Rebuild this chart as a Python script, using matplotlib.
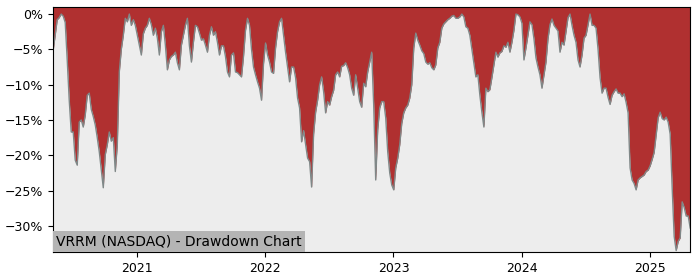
import numpy as np
import pandas as pd
import matplotlib
matplotlib.use("Agg")
from matplotlib import pyplot as plt
import matplotlib.dates as mdates
from matplotlib.ticker import FuncFormatter

# Drawdown in percent at an even spacing
start_date = "2020-05-07"
end_date = "2025-04-25"
drawdown = [
    -5.1, -3.0, -0.8, -0.5, 0.0, -0.3, -1.2, -6.5, -12.2, -16.7,
    -16.7, -20.7, -21.4, -15.3, -15.0, -16.0, -14.3, -11.5, -11.2, -13.5,
    -14.5, -15.7, -17.5, -19.5, -22.0, -24.6, -19.9, -18.5, -16.7, -18.0,
    -17.5, -22.3, -18.5, -8.2, -5.0, -3.0, -0.6, -1.1, 0.0, -1.6,
    -0.8, -1.6, -3.0, -4.4, -5.8, -2.8, -2.0, -1.6, -0.6, -1.5,
    -3.0, -2.0, -3.4, -5.8, -2.5, -1.6, -4.4, -7.9, -6.5, -6.0,
    -5.8, -5.4, -6.9, -7.9, -4.4, -3.0, -1.6, -0.6, -4.5, -6.8,
    -4.0, -1.6, -1.8, -2.7, -3.7, -3.5, -4.4, -5.4, -3.0, -1.8,
    -3.0, -2.5, -4.0, -5.8, -4.5, -4.5, -6.0, -8.2, -8.9, -5.8,
    -5.5, -8.2, -8.3, -8.6, -8.9, -6.0, -2.3, -0.6, -1.6, -5.0,
    -7.5, -8.6, -9.6, -10.5, -12.2, -7.0, -4.1, -5.8, -6.8, -8.2,
    -8.4, -4.8, -2.5, -1.1, -0.6, -3.0, -5.4, -7.5, -9.6, -7.5,
    -7.5, -9.0, -11.9, -13.3, -18.1, -16.5, -18.5, -20.4, -20.9, -24.5,
    -17.0, -13.9, -12.2, -10.0, -8.9, -11.0, -14.0, -12.4, -12.9, -11.7,
    -10.8, -8.6, -8.2, -8.9, -7.4, -7.3, -6.9, -7.6, -8.6, -10.5,
    -11.5, -8.6, -10.5, -12.4, -13.2, -9.8, -10.3, -8.2, -6.8, -5.4,
    -12.9, -23.5, -16.4, -13.3, -12.4, -12.4, -14.7, -19.5, -22.5, -24.2,
    -24.9, -21.8, -20.4, -18.5, -15.5, -14.0, -13.3, -12.9, -11.9, -10.0,
    -4.8, -2.7, -3.7, -4.4, -5.2, -5.6, -6.8, -7.1, -6.9, -7.6,
    -7.9, -7.2, -4.8, -4.0, -2.0, -1.4, -1.1, -0.8, -0.6, -0.3,
    -0.2, -0.6, -0.6, -0.4, 0.0, -0.4, -1.8, -2.0, -3.0, -5.0,
    -7.0, -8.9, -8.6, -11.5, -13.9, -16.0, -10.5, -11.0, -10.7, -9.0,
    -7.2, -5.4, -6.1, -5.5, -5.3, -4.5, -4.7, -4.0, -5.4, -4.0,
    -2.3, 0.0, -0.1, -0.4, -1.3, -6.5, -4.8, -3.0, -1.1, -1.5,
    -3.5, -6.2, -7.5, -8.6, -10.5, -8.6, -6.8, -3.5, -1.5, -0.7,
    -1.6, -2.0, -2.4, -5.4, -4.0, -4.4, -2.5, -0.5, 0.0, -1.6,
    -3.0, -4.0, -6.5, -7.5, -5.8, -3.4, -3.0, -1.5, 0.0, -1.6,
    -1.6, -2.0, -5.0, -9.0, -11.2, -10.5, -10.5, -11.8, -12.8, -11.5,
    -11.0, -10.6, -11.2, -11.2, -11.7, -11.3, -12.5, -14.0, -21.8, -23.5,
    -24.0, -24.9, -23.5, -23.2, -23.0, -22.8, -22.3, -22.1, -21.5, -20.6,
    -19.6, -17.1, -14.7, -13.9, -14.8, -15.0, -14.6, -15.3, -17.0, -24.6,
    -31.5, -33.5, -32.2, -31.7, -26.6, -27.4, -28.6, -28.6, -30.3,
]
title_text = "VRRM (NASDAQ) - Drawdown Chart"

dates = pd.date_range(start_date, end_date, periods=len(drawdown))
dd = np.array(drawdown)

fig, ax = plt.subplots(figsize=(7, 2.8), dpi=100)
ax.set_facecolor("#ededed")

y_top = 1.0
y_bottom = -33.7
ax.fill_between(dates, dd, y_top, color="#b03030", linewidth=0)
ax.plot(dates, dd, color="#808888", linewidth=1.0)

ax.set_xlim(dates[0], dates[-1])
ax.set_ylim(y_bottom, y_top)
ax.set_yticks([0, -5, -10, -15, -20, -25, -30])
ax.yaxis.set_major_formatter(FuncFormatter(lambda v, p: f"{v:.0f}%".replace("-", "\u2212")))
ax.xaxis.set_major_locator(mdates.YearLocator())
ax.xaxis.set_major_formatter(mdates.DateFormatter("%Y"))
ax.tick_params(labelsize=9)

ax.text(0.005, 0.015, title_text, transform=ax.transAxes, fontsize=10,
        ha="left", va="bottom",
        bbox=dict(facecolor="#b4b4b4", edgecolor="none", pad=2.5))

plt.subplots_adjust(left=0.076, right=0.986, top=0.975, bottom=0.1)
plt.savefig("out.png")
